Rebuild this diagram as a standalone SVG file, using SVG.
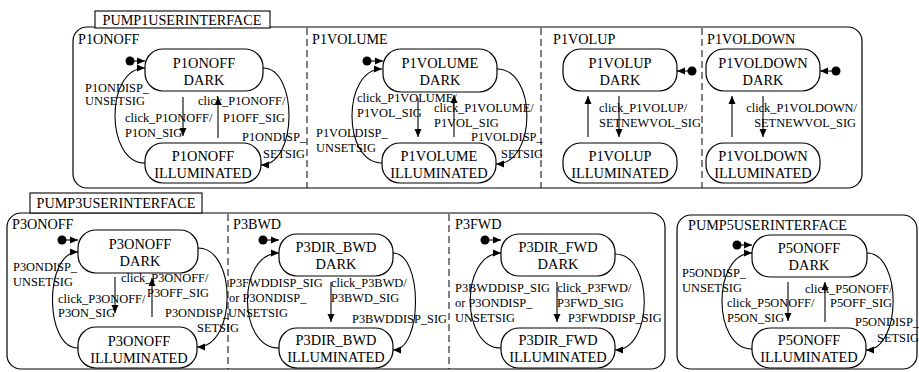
<svg xmlns="http://www.w3.org/2000/svg" width="919" height="372" viewBox="0 0 919 372">
<defs>
<marker id="ah" viewBox="0 0 8 8" refX="8" refY="4" markerWidth="8" markerHeight="8" markerUnits="userSpaceOnUse" orient="auto">
<path d="M0,0.5 L8,4 L0,7.5 z" fill="#000"/>
</marker>
<style>
text{font-family:"Liberation Serif","Times New Roman",serif;fill:#000}
.st{font-size:14.4px;text-anchor:middle}
.rg{font-size:14.2px}
.lb{font-size:12.4px}
.state{fill:#fff;stroke:#000;stroke-width:1.2}
.outer{fill:#fff;stroke:#000;stroke-width:1.2}
.tab{fill:#fff;stroke:#000;stroke-width:1.1}
.div{stroke:#000;stroke-width:1;stroke-dasharray:7,4;fill:none}
.cn{fill:none;stroke:#000;stroke-width:1.1;marker-end:url(#ah)}
.dot{fill:#000}
</style>
</defs>

<g id="pump1">
<rect class="outer" x="73" y="27" width="789" height="161" rx="14"/>
<rect class="tab" x="95" y="11" width="175" height="17"/>
<text class="rg" x="182" y="25" text-anchor="middle">PUMP1USERINTERFACE</text>
<line class="div" x1="307" y1="28" x2="307" y2="188"/>
<line class="div" x1="541" y1="28" x2="541" y2="188"/>
<line class="div" x1="702" y1="28" x2="702" y2="188"/>
<text class="rg" x="78" y="44">P1ONOFF</text>
<text class="rg" x="312" y="44">P1VOLUME</text>
<text class="rg" x="553" y="44">P1VOLUP</text>
<text class="rg" x="707" y="44">P1VOLDOWN</text>
</g>

<g id="pump3">
<rect class="outer" x="7" y="213" width="658" height="156" rx="14"/>
<rect class="tab" x="30" y="193" width="172" height="20"/>
<text class="rg" x="116" y="208" text-anchor="middle">PUMP3USERINTERFACE</text>
<line class="div" x1="228" y1="214" x2="228" y2="369"/>
<line class="div" x1="449" y1="214" x2="449" y2="369"/>
<text class="rg" x="12" y="229">P3ONOFF</text>
<text class="rg" x="233" y="229">P3BWD</text>
<text class="rg" x="455" y="229">P3FWD</text>
</g>

<g id="pump5">
<rect class="outer" x="677" y="215" width="240" height="154" rx="14"/>
<text class="rg" x="688" y="230">PUMP5USERINTERFACE</text>
</g>

<g id="P1ONOFF_DARK"><rect class="state" x="145" y="49" width="118" height="42" rx="18"/><text class="st" x="204" y="68">P1ONOFF</text><text class="st" x="204" y="85">DARK</text></g>
<g id="P1ONOFF_ILLUMINATED"><rect class="state" x="145" y="143" width="116" height="40" rx="18"/><text class="st" x="203" y="161">P1ONOFF</text><text class="st" x="203" y="178">ILLUMINATED</text></g>
<g id="P1VOLUME_DARK"><rect class="state" x="383" y="49" width="114" height="43" rx="18"/><text class="st" x="440" y="68">P1VOLUME</text><text class="st" x="440" y="85">DARK</text></g>
<g id="P1VOLUME_ILLUMINATED"><rect class="state" x="382" y="143" width="114" height="40" rx="18"/><text class="st" x="439" y="161">P1VOLUME</text><text class="st" x="439" y="178">ILLUMINATED</text></g>
<g id="P1VOLUP_DARK"><rect class="state" x="563" y="49" width="114" height="42" rx="18"/><text class="st" x="620" y="68">P1VOLUP</text><text class="st" x="620" y="85">DARK</text></g>
<g id="P1VOLUP_ILLUMINATED"><rect class="state" x="563" y="143" width="114" height="40" rx="18"/><text class="st" x="620" y="161">P1VOLUP</text><text class="st" x="620" y="178">ILLUMINATED</text></g>
<g id="P1VOLDOWN_DARK"><rect class="state" x="706" y="49" width="114" height="42" rx="18"/><text class="st" x="763" y="68">P1VOLDOWN</text><text class="st" x="763" y="85">DARK</text></g>
<g id="P1VOLDOWN_ILLUMINATED"><rect class="state" x="706" y="143" width="114" height="40" rx="18"/><text class="st" x="763" y="161">P1VOLDOWN</text><text class="st" x="763" y="178">ILLUMINATED</text></g>

<g id="P3ONOFF_DARK"><rect class="state" x="78" y="230" width="120" height="43" rx="18"/><text class="st" x="140" y="249">P3ONOFF</text><text class="st" x="140" y="266">DARK</text></g>
<g id="P3ONOFF_ILLUMINATED"><rect class="state" x="78" y="327" width="119" height="41" rx="18"/><text class="st" x="139" y="346">P3ONOFF</text><text class="st" x="139" y="363">ILLUMINATED</text></g>
<g id="P3DIR_BWD_DARK"><rect class="state" x="279" y="234" width="114" height="42" rx="18"/><text class="st" x="336" y="252">P3DIR_BWD</text><text class="st" x="336" y="269">DARK</text></g>
<g id="P3DIR_BWD_ILLUMINATED"><rect class="state" x="279" y="328" width="114" height="40" rx="18"/><text class="st" x="336" y="345">P3DIR_BWD</text><text class="st" x="336" y="362">ILLUMINATED</text></g>
<g id="P3DIR_FWD_DARK"><rect class="state" x="501" y="234" width="114" height="42" rx="18"/><text class="st" x="558" y="252">P3DIR_FWD</text><text class="st" x="558" y="269">DARK</text></g>
<g id="P3DIR_FWD_ILLUMINATED"><rect class="state" x="501" y="328" width="114" height="40" rx="18"/><text class="st" x="558" y="345">P3DIR_FWD</text><text class="st" x="558" y="362">ILLUMINATED</text></g>
<g id="P5ONOFF_DARK"><rect class="state" x="752" y="235" width="115" height="42" rx="18"/><text class="st" x="809" y="253">P5ONOFF</text><text class="st" x="809" y="270">DARK</text></g>
<g id="P5ONOFF_ILLUMINATED"><rect class="state" x="752" y="328" width="114" height="40" rx="18"/><text class="st" x="809" y="345">P5ONOFF</text><text class="st" x="809" y="362">ILLUMINATED</text></g>

<g id="initials">
<circle class="dot" cx="130" cy="61" r="4.5"/>
<circle class="dot" cx="367" cy="61" r="4.5"/>
<circle class="dot" cx="692" cy="71" r="4.5"/>
<circle class="dot" cx="836" cy="71" r="4.5"/>
<circle class="dot" cx="62" cy="240" r="4.5"/>
<circle class="dot" cx="263" cy="240" r="4.5"/>
<circle class="dot" cx="485" cy="240" r="4.5"/>
<circle class="dot" cx="737" cy="245" r="4.5"/>
</g>

<g id="connectors">
<path class="cn" d="M134,61 L145,61"/>
<path class="cn" d="M145,163 C105,163 105,68 145,68"/>
<path class="cn" d="M263,68 C298,68 298,165 261,165"/>
<path class="cn" d="M183,97 L183,136"/>
<path class="cn" d="M218,138 L218,97"/>

<path class="cn" d="M371,61 L383,61"/>
<path class="cn" d="M382,163 C342,163 342,69 382,69"/>
<path class="cn" d="M497,69 C537,69 537,164 496,164"/>
<path class="cn" d="M418,98 L418,137"/>
<path class="cn" d="M454,137 L454,95"/>

<path class="cn" d="M688,71 L677,71"/>
<path class="cn" d="M588,137 L588,96"/>
<path class="cn" d="M619,96 L619,137"/>

<path class="cn" d="M832,71 L820,71"/>
<path class="cn" d="M732,137 L732,96"/>
<path class="cn" d="M763,96 L763,137"/>

<path class="cn" d="M66,240 L78,240"/>
<path class="cn" d="M78,348 C44,348 44,252 78,252"/>
<path class="cn" d="M198,248 C237,248 237,347 197,347"/>
<path class="cn" d="M115,277 L115,313"/>
<path class="cn" d="M152,317 L152,278"/>

<path class="cn" d="M267,240 L279,240"/>
<path class="cn" d="M279,348 C237,348 237,253 279,253"/>
<path class="cn" d="M393,253 C423,253 423,350 393,350"/>
<path class="cn" d="M331,282 L331,322"/>

<path class="cn" d="M489,240 L501,240"/>
<path class="cn" d="M501,348 C460,348 460,253 501,253"/>
<path class="cn" d="M615,254 C654,254 654,350 615,350"/>
<path class="cn" d="M557,282 L557,322"/>

<path class="cn" d="M741,245 L752,245"/>
<path class="cn" d="M752,349 C712,349 712,253 752,253"/>
<path class="cn" d="M867,253 C902,253 902,350 866,350"/>
<path class="cn" d="M788,282 L788,321"/>
<path class="cn" d="M825,322 L825,282"/>
</g>

<g id="labels" class="lb">
<text class="lb" x="85" y="92">P1ONDISP_</text>
<text class="lb" x="85" y="105">UNSETSIG</text>
<text class="lb" x="125" y="122">click_P1ONOFF/</text>
<text class="lb" x="125" y="137">P1ON_SIG</text>
<text class="lb" x="198" y="105">click_P1ONOFF/</text>
<text class="lb" x="223" y="122">P1OFF_SIG</text>
<text class="lb" x="242" y="141">P1ONDISP_</text>
<text class="lb" x="263" y="158">SETSIG</text>

<text class="lb" x="357" y="102">click_P1VOLUME/</text>
<text class="lb" x="357" y="117">P1VOL_SIG</text>
<text class="lb" x="434" y="112">click_P1VOLUME/</text>
<text class="lb" x="434" y="127">P1VOL_SIG</text>
<text class="lb" x="471" y="141">P1VOLDISP_</text>
<text class="lb" x="501" y="158">SETSIG</text>
<text class="lb" x="316" y="137">P1VOLDISP_</text>
<text class="lb" x="316" y="152">UNSETSIG</text>

<text class="lb" x="599" y="112">click_P1VOLUP/</text>
<text class="lb" x="599" y="127">SETNEWVOL_SIG</text>
<text class="lb" x="857" y="112" text-anchor="end">click_P1VOLDOWN/</text>
<text class="lb" x="856" y="127" text-anchor="end">SETNEWVOL_SIG</text>

<text class="lb" x="13" y="271">P3ONDISP_</text>
<text class="lb" x="13" y="286">UNSETSIG</text>
<text class="lb" x="58" y="303">click_P3ONOFF/</text>
<text class="lb" x="58" y="317">P3ON_SIG</text>
<text class="lb" x="121" y="282">click_P3ONOFF/</text>
<text class="lb" x="147" y="297">P3OFF_SIG</text>
<text class="lb" x="165" y="317">P3ONDISP_</text>
<text class="lb" x="197" y="332">SETSIG</text>

<text class="lb" x="229" y="287">P3FWDDISP_SIG</text>
<text class="lb" x="229" y="302">or P3ONDISP_</text>
<text class="lb" x="228" y="317">UNSETSIG</text>
<text class="lb" x="331" y="287">click_P3BWD/</text>
<text class="lb" x="331" y="302">P3BWD_SIG</text>
<text class="lb" x="352" y="323">P3BWDDISP_SIG</text>

<text class="lb" x="455" y="292">P3BWDDISP_SIG</text>
<text class="lb" x="455" y="307">or P3ONDISP_</text>
<text class="lb" x="455" y="322">UNSETSIG</text>
<text class="lb" x="557" y="292">click_P3FWD/</text>
<text class="lb" x="557" y="307">P3FWD_SIG</text>
<text class="lb" x="568" y="322">P3FWDDISP_SIG</text>

<text class="lb" x="682" y="277">P5ONDISP_</text>
<text class="lb" x="682" y="292">UNSETSIG</text>
<text class="lb" x="727" y="307">click_P5ONOFF/</text>
<text class="lb" x="727" y="322">P5ON_SIG</text>
<text class="lb" x="805" y="293">click_P5ONOFF/</text>
<text class="lb" x="830" y="307">P5OFF_SIG</text>
<text class="lb" x="855" y="326">P5ONDISP_</text>
<text class="lb" x="877" y="342">SETSIG</text>
</g>
</svg>
